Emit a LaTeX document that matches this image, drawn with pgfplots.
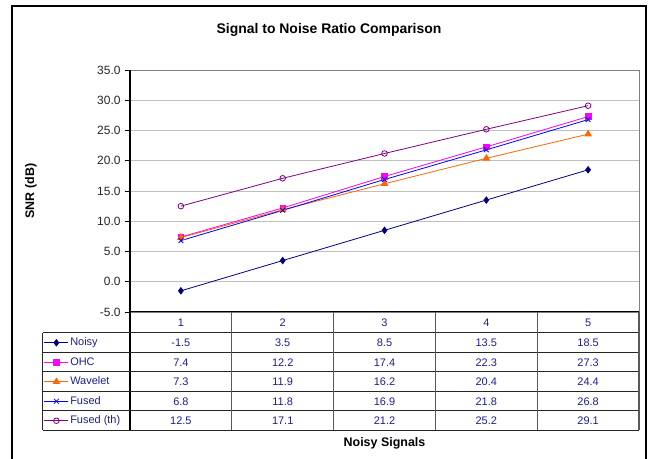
\documentclass[border=0pt]{standalone}
\usepackage{pgfplots}
\pgfplotsset{compat=1.18}
\usepackage{pgfplotstable}
\usepackage{fontspec}
\setmainfont{Liberation Sans}
\definecolor{cNoisy}{RGB}{0,0,128}
\definecolor{cOHC}{RGB}{255,0,255}
\definecolor{cWav}{RGB}{255,102,0}
\definecolor{cFused}{RGB}{0,0,255}
\definecolor{cTh}{RGB}{128,0,128}
\definecolor{tblue}{RGB}{30,30,140}
\pgfplotstableread{
x Noisy OHC Wavelet Fused FusedTh
1 -1.5 7.4 7.3 6.8 12.5
2 3.5 12.2 11.9 11.8 17.1
3 8.5 17.4 16.2 16.9 21.2
4 13.5 22.3 20.4 21.8 25.2
5 18.5 27.3 24.4 26.8 29.1
}\datatable
\begin{document}
\begin{tikzpicture}[x=1bp,y=1bp]
\begin{axis}[
  scale only axis, width=509bp, height=242bp,
  xmin=0.5, xmax=5.5, ymin=-5, ymax=35,
  ytick={-5,0,...,35}, xtick=\empty,
  ytick pos=left, tick align=outside, major tick length=5bp,
  tick style={black, line width=0.8bp},
  axis line style={draw=black!50, line width=0.8bp},
  ymajorgrids, grid style={draw=black!25, line width=0.8bp},
  yticklabel style={font=\fontsize{12}{14}\selectfont, text=black!85, xshift=-1bp,
    /pgf/number format/fixed, /pgf/number format/fixed zerofill,
    /pgf/number format/precision=1, /pgf/number format/assume math mode=true},
  ylabel={SNR (dB)},
  ylabel style={at={(axis description cs:-0.1945,0.5)}, anchor=center, font=\bfseries\fontsize{12.5}{14}\selectfont},
  xlabel={Noisy Signals},
  xlabel style={at={(axis description cs:0.5,-0.541)}, anchor=center, font=\bfseries\fontsize{12.5}{14}\selectfont},
  title={Signal to Noise Ratio Comparison},
  title style={at={(axis description cs:0.391,1.14)}, anchor=center, font=\bfseries\fontsize{14}{16}\selectfont},
  legend style={at={(axis description cs:-0.169,-0.0868)}, anchor=north west,
    draw=none, fill=none, inner sep=0pt, outer sep=0pt, row sep=0pt,
    font=\fontsize{11}{13}\selectfont, text=tblue,
    nodes={inner sep=1.5bp, minimum height=19.5bp, text height=8bp, text depth=2bp}},
  legend cell align=left,
  legend image code/.code={\draw[mark repeat=2,mark phase=2,#1] plot coordinates {(0bp,0bp)(12bp,0bp)(24bp,0bp)};},
  clip=false,
]
\addplot[cNoisy, line width=0.8bp, mark=diamond*, mark size=3.2bp, mark options={fill=cNoisy}] table[x=x,y=Noisy] {\datatable};
\addlegendentry{Noisy}
\addplot[cOHC, line width=0.8bp, mark=square*, mark size=2.8bp, mark options={fill=cOHC}] table[x=x,y=OHC] {\datatable};
\addlegendentry{OHC}
\addplot[cWav, line width=0.8bp, mark=triangle*, mark size=3.6bp, mark options={fill=cWav}] table[x=x,y=Wavelet] {\datatable};
\addlegendentry{Wavelet}
\addplot[cFused, line width=0.8bp, mark=x, mark size=3.3bp] table[x=x,y=Fused] {\datatable};
\addlegendentry{Fused}
\addplot[cTh, line width=0.8bp, mark=o, mark size=2.8bp, mark options={fill=white}] table[x=x,y=FusedTh] {\datatable};
\addlegendentry{Fused (th)}
\coordinate (P) at (rel axis cs:0,0);
\end{axis}
\begin{scope}[shift={(P)}, shift={(-130,-147)}]
\draw[line width=1.2bp] (12,-11) -- (12,453) -- (646,453) -- (646,-11);
% left and bottom axis in black
\draw[black, line width=1bp] (130,389) -- (130,28.5);
\draw[black, line width=1bp] (130,147) -- (639,147);
% data table grid
\foreach \yy in {126,106.5,87,67.5,48,28.5}{
  \draw[black!85, line width=1bp] (43,\yy) -- (639,\yy);
}
\draw[black!85, line width=1bp] (43,126) -- (43,28.5);
\foreach \xx in {231.8,333.6,435.4,537.2,639}{
  \draw[black!65, line width=1.2bp] (\xx,147) -- (\xx,28.5);
}
% category labels
\foreach \i in {1,...,5}{
  \node[font=\fontsize{11}{13}\selectfont, text=tblue] at ({130+(\i-0.5)*101.8},136.5) {\i};
}
% values
\foreach \col [count=\r] in {Noisy,OHC,Wavelet,Fused,FusedTh}{
  \foreach \i in {0,...,4}{
    \pgfplotstablegetelem{\i}{\col}\of\datatable
    \node[font=\fontsize{11}{13}\selectfont, text=tblue] at ({130+(\i+0.5)*101.8},{126-(\r-0.5)*19.5}) {\pgfmathprintnumber[fixed,fixed zerofill,precision=1,assume math mode=true]{\pgfplotsretval}};
  }
}
\pgfresetboundingbox
\path[use as bounding box] (0,0) rectangle (648,459);
\end{scope}
\end{tikzpicture}
\end{document}
